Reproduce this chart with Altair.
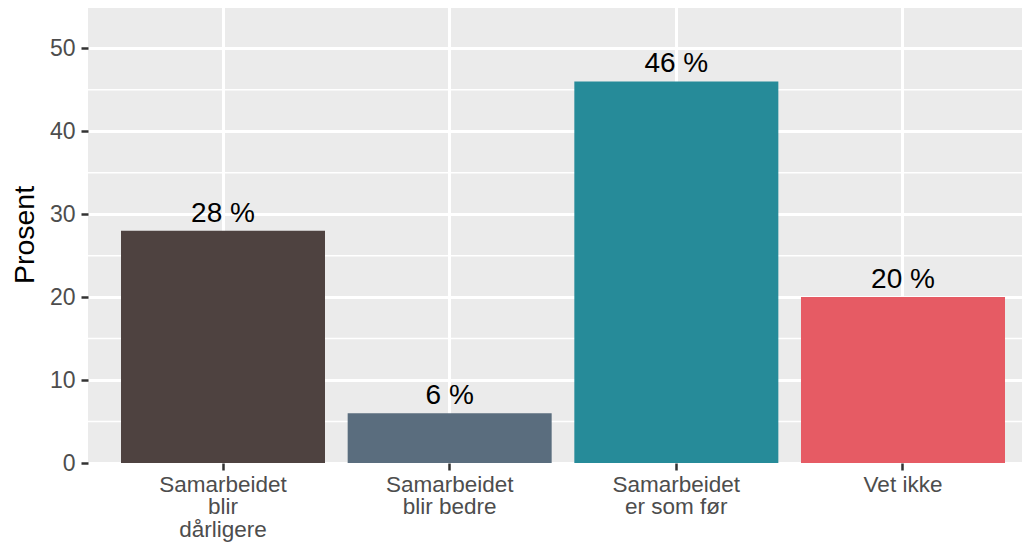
import altair as alt
import pandas as pd

categories = ["Samarbeidet\nblir\ndårligere", "Samarbeidet\nblir bedre", "Samarbeidet\ner som før", "Vet ikke"]
values = [28, 6, 46, 20]
colors = ["#4E4240", "#5A6D7E", "#268B99", "#E65B64"]
y_ticks = [0, 10, 20, 30, 40, 50]
y_minor = [5, 15, 25, 35, 45, 55]

FONT = "Liberation Sans"

df = pd.DataFrame({
    "cat": categories,
    "value": values,
    "label": [f"{v} %" for v in values],
})
minor_df = pd.DataFrame({"m": y_minor})

x_scale = alt.Scale(domain=categories, paddingInner=0.1, paddingOuter=0.1103, align=0.66, round=False)
y_scale = alt.Scale(domain=[0, 55.1], nice=False, zero=True)

x_enc = alt.X(
    "cat:N", sort=categories, scale=x_scale,
    axis=alt.Axis(
        title=None, labelAngle=0, domain=False,
        ticks=True, tickSize=7, tickWidth=2.5, tickColor="#333333",
        labelColor="#4D4D4D", labelFontSize=22.5, labelFont=FONT,
        labelPadding=3, labelLineHeight=22.6,
        labelExpr="split(datum.label, '\\n')",
        grid=True, gridColor="white", gridWidth=3, bandPosition=0.5,
    ),
)
y_enc = alt.Y(
    "value:Q", scale=y_scale,
    axis=alt.Axis(
        title="Prosent", titleFontSize=28.5, titleFont=FONT, titleColor="black",
        titleFontWeight="normal", titlePadding=10,
        values=y_ticks, domain=False,
        tickSize=7, tickWidth=2.5, tickColor="#333333",
        labelColor="#4D4D4D", labelFontSize=23, labelFont=FONT, labelPadding=6,
        grid=True, gridColor="white", gridWidth=3,
    ),
)

minor = alt.Chart(minor_df).mark_rule(color="white", strokeWidth=1.5).encode(
    y=alt.Y("m:Q", scale=y_scale)
)

bars = alt.Chart(df).mark_bar().encode(
    x=x_enc,
    y=y_enc,
    color=alt.Color("cat:N", scale=alt.Scale(domain=categories, range=colors), legend=None),
)

text = alt.Chart(df).mark_text(
    dy=-9, baseline="alphabetic", fontSize=28, font=FONT, color="black"
).encode(
    x=alt.X("cat:N", sort=categories, scale=x_scale),
    y=alt.Y("value:Q", scale=y_scale),
    text="label:N",
)

chart = alt.layer(minor, bars, text).properties(
    width=934, height=457,
    autosize=alt.AutoSizeParams(type="none"),
    padding={"left": 80, "top": -2, "right": 0, "bottom": 80},
    background="white",
).configure_view(fill="#EBEBEB", stroke=None)

chart.save("out.html", embed_options={"renderer": "svg", "actions": False})
